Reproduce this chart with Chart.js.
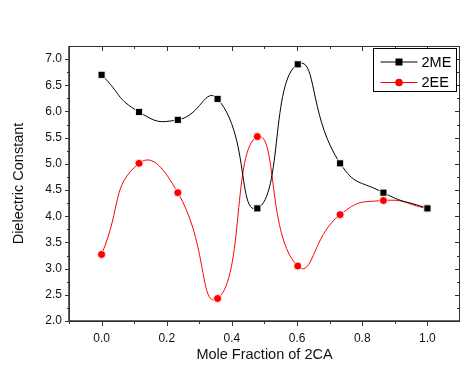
<!DOCTYPE html>
<html>
<head>
<meta charset="utf-8">
<script src="https://cdn.jsdelivr.net/npm/chart.js@4.4.1/dist/chart.umd.min.js"></script>
<style>
  html, body { margin: 0; padding: 0; background: #fff; }
  #wrap { width: 460px; height: 365px; position: relative; }
</style>
</head>
<body>
<div id="wrap"><canvas id="chart"></canvas></div>
<script>
// ===== data =====
const moleFraction = [0.0, 0.115, 0.234, 0.356, 0.478, 0.602, 0.732, 0.865, 1.0];
const me2 = [6.70, 5.99, 5.84, 6.24, 4.15, 6.90, 5.01, 4.45, 4.15];
const ee2 = [3.27, 5.01, 4.45, 2.43, 5.52, 3.05, 4.03, 4.30, 4.15];
const xTickValues = [0.0, 0.2, 0.4, 0.6, 0.8, 1.0];
const yTickValues = [2.0, 2.5, 3.0, 3.5, 4.0, 4.5, 5.0, 5.5, 6.0, 6.5, 7.0];
const seriesNames = ["2ME", "2EE"];

const FONT = "'Liberation Sans', Arial, sans-serif";
const AXIS = "#333";

function toPoints(ys) {
  return moleFraction.map((x, i) => ({ x: x, y: ys[i] }));
}

// frame + tick marks like Origin (out on left/bottom, in on top/right)
const framePlugin = {
  id: "frame",
  afterDraw(chart) {
    const { ctx, chartArea: a, scales: { x, y } } = chart;
    ctx.save();
    ctx.strokeStyle = AXIS;
    ctx.lineWidth = 1;
    ctx.strokeRect(a.left + 0.5, a.top + 0.5, a.right - a.left - 1, a.bottom - a.top);
    ctx.lineWidth = 1.5;
    ctx.beginPath();
    ctx.moveTo(a.left, a.top); ctx.lineTo(a.left, a.bottom); ctx.lineTo(a.right, a.bottom);
    ctx.stroke();
    ctx.lineWidth = 1;
    ctx.beginPath();
    for (let i = -1; i <= 11; i++) {
      const v = i / 10;
      const px = Math.round(x.getPixelForValue(v)) + 0.5;
      const len = i % 2 === 0 ? 5 : 3;
      ctx.moveTo(px, a.bottom); ctx.lineTo(px, a.bottom + len);
      ctx.moveTo(px, a.top); ctx.lineTo(px, a.top + len);
    }
    for (let i = 0; i <= 20; i++) {
      const v = 2 + i * 0.25;
      const py = Math.round(y.getPixelForValue(v)) + 0.5;
      const len = i % 2 === 0 ? 4 : 2;
      ctx.moveTo(a.left, py); ctx.lineTo(a.left - len, py);
      ctx.moveTo(a.right - 1, py); ctx.lineTo(a.right - 1 - len, py);
    }
    ctx.stroke();

    // legend box in the top right corner
    const bx = 373.5, by = a.top + 2.5, bw = 83, bh = 43;
    ctx.fillStyle = "#fff";
    ctx.fillRect(bx, by, bw, bh);
    ctx.strokeStyle = "#000";
    ctx.strokeRect(bx, by, bw, bh);
    const colors = ["#000", "#ff0000"];
    chart.data.datasets.forEach((ds, i) => {
      const ly = by + 13.5 + i * 20.5;
      ctx.strokeStyle = colors[i];
      ctx.lineWidth = 1;
      ctx.beginPath();
      ctx.moveTo(bx + 7, ly); ctx.lineTo(bx + 44, ly);
      ctx.stroke();
      ctx.fillStyle = colors[i];
      if (i === 0) {
        ctx.fillRect(bx + 22, ly - 3.5, 7, 7);
      } else {
        ctx.beginPath(); ctx.arc(bx + 25.5, ly, 3.8, 0, Math.PI * 2); ctx.fill();
      }
      ctx.fillStyle = "#000";
      ctx.font = "14.5px " + FONT;
      ctx.textBaseline = "middle";
      ctx.fillText(ds.label, bx + 48, ly + 0.5);
    });
    ctx.restore();
  }
};

new Chart(document.getElementById("chart"), {
  type: "line",
  data: {
    datasets: [
      { label: seriesNames[0], data: toPoints(me2), borderColor: "#000", backgroundColor: "#000",
        borderWidth: 1, tension: 0.55, pointStyle: "rect", pointRadius: 5,
        pointBorderColor: "rgba(255,255,255,0.85)", pointBorderWidth: 1 },
      { label: seriesNames[1], data: toPoints(ee2), borderColor: "#ff0000", backgroundColor: "#ff0000",
        borderWidth: 1, tension: 0.55, pointStyle: "circle", pointRadius: 4,
        pointBorderColor: "rgba(255,255,255,0.85)", pointBorderWidth: 1 }
    ]
  },
  options: {
    responsive: true,
    maintainAspectRatio: false,
    animation: false,
    layout: { autoPadding: false, padding: { top: 46, right: 0, left: 0, bottom: 0 } },
    plugins: { legend: { display: false }, tooltip: { enabled: false } },
    scales: {
      x: {
        type: "linear", min: -0.1, max: 1.1,
        afterBuildTicks: (s) => { s.ticks = xTickValues.map((v) => ({ value: v })); },
        afterFit: (s) => { s.height = 44; },
        grid: { display: false, drawTicks: false },
        border: { display: false },
        ticks: { color: "#111", padding: 10, font: { family: FONT, size: 12 },
          callback: (v) => Number(v).toFixed(1) },
        title: { display: true, text: "Mole Fraction of 2CA", color: "#111",
          font: { family: FONT, size: 14.5 }, padding: { top: 0, bottom: 1 } }
      },
      y: {
        type: "linear", min: 2.0, max: 7.25,
        afterBuildTicks: (s) => { s.ticks = yTickValues.map((v) => ({ value: v })); },
        afterFit: (s) => { s.width = 69; },
        grid: { display: false, drawTicks: false },
        border: { display: false },
        ticks: { color: "#111", padding: 7, font: { family: FONT, size: 12 },
          callback: (v) => Number(v).toFixed(1) },
        title: { display: true, text: "Dielectric Constant", color: "#111",
          font: { family: FONT, size: 14.5 }, padding: { top: 10, bottom: 0 } }
      }
    }
  },
  plugins: [framePlugin]
});
</script>
</body>
</html>
